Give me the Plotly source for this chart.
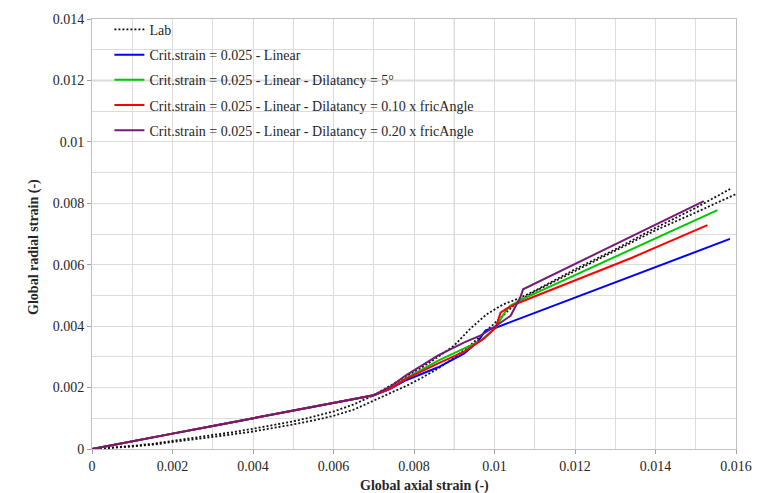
import plotly.graph_objects as go

# Lab measurements (two specimens, shown under one legend entry)
lab1_x = [0, 0.0005, 0.001, 0.0015, 0.002, 0.0025, 0.003, 0.0035, 0.004, 0.0045, 0.005, 0.0055,
          0.006, 0.0065, 0.007, 0.0074, 0.0078, 0.0082, 0.0086, 0.009, 0.0094, 0.0098, 0.0102,
          0.0106, 0.011, 0.012, 0.013, 0.014, 0.015, 0.0159]
lab1_y = [0, 0.00004, 0.0001, 0.00017, 0.00026, 0.00035, 0.00045, 0.00055, 0.00066, 0.00078,
          0.0009, 0.00105, 0.00122, 0.00145, 0.00175, 0.00205, 0.00235, 0.00266, 0.003, 0.00337,
          0.00392, 0.00438, 0.0047, 0.0049, 0.00515, 0.00585, 0.0065, 0.0072, 0.00785, 0.0085]

lab2_x = [0, 0.0005, 0.001, 0.0015, 0.002, 0.0025, 0.003, 0.0035, 0.004, 0.0045, 0.005, 0.0055,
          0.006, 0.0065, 0.007, 0.0074, 0.0078, 0.0082, 0.0086, 0.009, 0.0094, 0.0098, 0.0102,
          0.0106, 0.011, 0.012, 0.013, 0.014, 0.015, 0.016]
lab2_y = [0, 0.00003, 0.00008, 0.00014, 0.00022, 0.0003, 0.00039, 0.00048, 0.00057, 0.00068,
          0.0008, 0.00093, 0.00108, 0.00128, 0.00158, 0.00182, 0.00205, 0.00232, 0.00262, 0.00298,
          0.00338, 0.00385, 0.00435, 0.00482, 0.00513, 0.0058, 0.00645, 0.00712, 0.0077, 0.0083]

# Numerical results, critical strain 0.025
lin_x = [0, 0.001, 0.002, 0.003, 0.004, 0.005, 0.006, 0.007, 0.0074, 0.0078, 0.0086, 0.00925,
         0.00957, 0.00978, 0.00991, 0.01003, 0.01585]
lin_y = [0, 0.00024, 0.0005, 0.00075, 0.001, 0.00125, 0.0015, 0.00175, 0.00195, 0.00224,
         0.00266, 0.00311, 0.00347, 0.00386, 0.00392, 0.00395, 0.00684]

dil5_x = [0, 0.001, 0.002, 0.003, 0.004, 0.005, 0.006, 0.007, 0.0074, 0.0078, 0.0086, 0.00925,
          0.00966, 0.01003, 0.01028, 0.0104, 0.01071, 0.01554]
dil5_y = [0, 0.00024, 0.0005, 0.00075, 0.001, 0.00125, 0.0015, 0.00175, 0.00197, 0.0023,
          0.00288, 0.00327, 0.00353, 0.00395, 0.0045, 0.00467, 0.00489, 0.00778]

dil010_x = [0, 0.001, 0.002, 0.003, 0.004, 0.005, 0.006, 0.007, 0.0074, 0.0078, 0.0086, 0.00925,
            0.00974, 0.01003, 0.01015, 0.0103, 0.01054, 0.0134, 0.01529]
dil010_y = [0, 0.00024, 0.0005, 0.00075, 0.001, 0.00125, 0.0015, 0.00175, 0.00196, 0.00228,
            0.00279, 0.00317, 0.0036, 0.00395, 0.00444, 0.00457, 0.00473, 0.00622, 0.00729]

dil020_x = [0, 0.001, 0.002, 0.003, 0.004, 0.005, 0.006, 0.007, 0.0074, 0.0078, 0.0086, 0.00925,
            0.00966, 0.01005, 0.0104, 0.01064, 0.01071, 0.0152]
dil020_y = [0, 0.00024, 0.0005, 0.00075, 0.001, 0.00125, 0.0015, 0.00175, 0.00202, 0.0024,
            0.00305, 0.00347, 0.0037, 0.00402, 0.00434, 0.00493, 0.0052, 0.00807]

names = [
    "Lab",
    "Crit.strain = 0.025 - Linear",
    "Crit.strain = 0.025 - Linear - Dilatancy = 5°",
    "Crit.strain = 0.025 - Linear - Dilatancy = 0.10 x fricAngle",
    "Crit.strain = 0.025 - Linear - Dilatancy = 0.20 x fricAngle",
]

x_tickvals = [0, 0.002, 0.004, 0.006, 0.008, 0.01, 0.012, 0.014, 0.016]
x_ticktext = ["0", "0.002", "0.004", "0.006", "0.008", "0.01", "0.012", "0.014", "0.016"]
y_tickvals = [0, 0.002, 0.004, 0.006, 0.008, 0.01, 0.012, 0.014]
y_ticktext = ["0", "0.002", "0.004", "0.006", "0.008", "0.01", "0.012", "0.014"]

FONT = "'Liberation Serif', 'Times New Roman', Tinos, serif"
TXT = "#262626"

fig = go.Figure()

lab_line = dict(color="#111111", width=1.8, dash="2px,2px")
fig.add_trace(go.Scatter(x=lab1_x, y=lab1_y, mode="lines", name=names[0], legendgroup="lab",
                         line=lab_line))
fig.add_trace(go.Scatter(x=lab2_x, y=lab2_y, mode="lines", name=names[0], legendgroup="lab",
                         showlegend=False, line=lab_line))

series = [
    (lin_x, lin_y, "#0000ff", names[1], "g1"),
    (dil5_x, dil5_y, "#00c800", names[2], "g2"),
    (dil010_x, dil010_y, "#ff0000", names[3], "g3"),
    (dil020_x, dil020_y, "#761a78", names[4], "g4"),
]
for xs, ys, col, nm, grp in series:
    fig.add_trace(go.Scatter(x=xs, y=ys, mode="lines", name=nm, legendgroup=grp,
                             line=dict(color=col, width=2)))

grid_col = "#dcdcdc"
axis_common = dict(
    showgrid=True, gridcolor=grid_col, gridwidth=1,
    zeroline=False, showline=True, linecolor="#c0c0c0", linewidth=1, mirror=True,
    ticks="outside", ticklen=4, tickcolor="#a0a0a0",
    tickfont=dict(family=FONT, size=14, color=TXT),
    minor=dict(dtick=0.001, showgrid=True, gridcolor=grid_col, gridwidth=1),
)

fig.update_xaxes(range=[0, 0.016], tickmode="array", tickvals=x_tickvals, ticktext=x_ticktext,
                 **axis_common)
fig.update_yaxes(range=[0, 0.014], tickmode="array", tickvals=y_tickvals, ticktext=y_ticktext,
                 **axis_common)

# darker reference lines of the chart grid
fig.add_shape(type="line", xref="x", yref="paper", x0=0.009, x1=0.009, y0=0, y1=1,
              line=dict(color="#b8b8b8", width=1), layer="below")
fig.add_shape(type="line", xref="paper", yref="y", x0=0, x1=1, y0=0.012, y1=0.012,
              line=dict(color="#b8b8b8", width=1.5), layer="below")

fig.add_annotation(text="<b>Global axial strain (-)</b>", xref="paper", yref="paper",
                   x=0.516, y=-0.085, xanchor="center", yanchor="middle", showarrow=False,
                   font=dict(family=FONT, size=14, color=TXT))
fig.add_annotation(text="<b>Global radial strain (-)</b>", xref="paper", yref="paper",
                   x=-0.09, y=0.47, xanchor="center", yanchor="middle", showarrow=False,
                   textangle=-90, font=dict(family=FONT, size=14, color=TXT))

fig.update_layout(
    width=764, height=493,
    margin=dict(l=92, r=18, t=17, b=44),
    paper_bgcolor="white", plot_bgcolor="white",
    font=dict(family=FONT, size=14, color=TXT),
    legend=dict(x=0.027, y=1.012, xanchor="left", yanchor="top", bgcolor="rgba(0,0,0,0)",
                traceorder="grouped", tracegroupgap=4, itemwidth=30,
                font=dict(family=FONT, size=14, color=TXT)),
    showlegend=True,
)

fig.write_html("out.html")
